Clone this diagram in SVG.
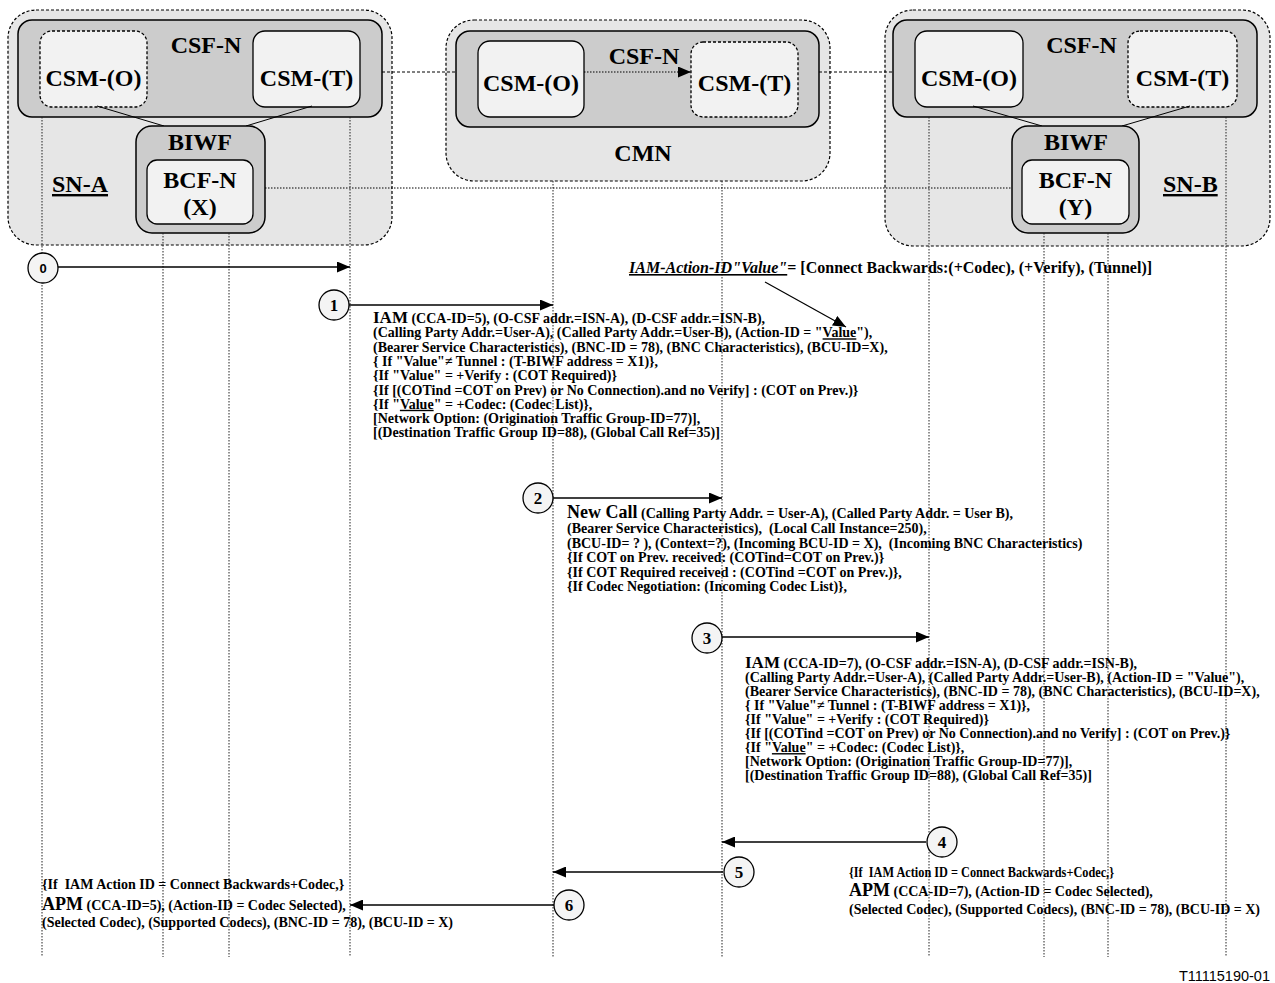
<svg xmlns="http://www.w3.org/2000/svg" width="1275" height="983" viewBox="0 0 1275 983">
<style>
text{font-family:"Liberation Serif","Times New Roman",serif;font-weight:bold;fill:#000;white-space:pre}
.lbl{font-size:24px;text-anchor:middle}
.b{font-size:14px}
.k{font-size:17px}
.kk{font-size:18px}
.n{font-size:17px;text-anchor:middle}
.outer{fill:#e6e6e6;stroke:#000;stroke-width:1.2;stroke-dasharray:3,2}
.csf{fill:#cccccc;stroke:#000;stroke-width:1.5}
.csm{fill:#f2f2f2;stroke:#000;stroke-width:1.3}
.dash{stroke-dasharray:3,2}
.life{stroke:#222;stroke-width:1;stroke-dasharray:1.5,1.5;fill:none}
.msg{stroke:#000;stroke-width:1.5;fill:none;marker-end:url(#ah)}
.circ{fill:#f4f4f4;stroke:#000;stroke-width:1.3}
.u{text-decoration:underline}
</style>
<defs>
<marker id="ah" markerUnits="userSpaceOnUse" markerWidth="13" markerHeight="11" refX="13" refY="5.5" orient="auto"><path d="M0,0 L13,5.5 L0,11 z" fill="#000"/></marker>
</defs>

<g id="SN-A">
<rect class="outer" x="8" y="10" width="384" height="235" rx="28"/>
<rect class="csf" x="18" y="20" width="364" height="97" rx="14"/>
<rect class="csm dash" x="40" y="31" width="107" height="76" rx="12"/>
<rect class="csm" x="253" y="31" width="107" height="76" rx="12"/>
<text class="lbl" x="206" y="53">CSF-N</text>
<text class="lbl" x="93.5" y="86">CSM-(O)</text>
<text class="lbl" x="306.5" y="86">CSM-(T)</text>
<line x1="97" y1="106" x2="164" y2="126" stroke="#000" stroke-width="1"/>
<line x1="312" y1="106" x2="246" y2="126" stroke="#000" stroke-width="1"/>
<rect class="csf" x="136" y="126" width="129" height="107" rx="16"/>
<rect class="csm" x="147" y="160" width="106" height="64" rx="10"/>
<text class="lbl" x="200" y="150">BIWF</text>
<text class="lbl" x="200" y="188">BCF-N</text>
<text class="lbl" x="200" y="215">(X)</text>
<text class="u" x="52" y="192" font-size="24">SN-A</text>
</g>

<g id="CMN">
<rect class="outer" x="446" y="20" width="384" height="161" rx="28"/>
<rect class="csf" x="456" y="31" width="363" height="96" rx="14"/>
<rect class="csm" x="478" y="41" width="106" height="76" rx="12"/>
<rect class="csm dash" x="691" y="42" width="107" height="75" rx="12"/>
<text class="lbl" x="644" y="64">CSF-N</text>
<text class="lbl" x="531" y="91">CSM-(O)</text>
<text class="lbl" x="744.5" y="91">CSM-(T)</text>
<text class="lbl" x="643" y="161">CMN</text>
</g>

<g id="SN-B">
<rect class="outer" x="885" y="10" width="385" height="236" rx="28"/>
<rect class="csf" x="893" y="20" width="364" height="97" rx="14"/>
<rect class="csm" x="915" y="31" width="108" height="76" rx="12"/>
<rect class="csm dash" x="1128" y="31" width="109" height="76" rx="12"/>
<text class="lbl" x="1081.5" y="53">CSF-N</text>
<text class="lbl" x="969" y="86">CSM-(O)</text>
<text class="lbl" x="1182.5" y="86">CSM-(T)</text>
<line x1="973" y1="106" x2="1042" y2="126" stroke="#000" stroke-width="1"/>
<line x1="1190" y1="106" x2="1122" y2="126" stroke="#000" stroke-width="1"/>
<rect class="csf" x="1012" y="126" width="127" height="107" rx="16"/>
<rect class="csm" x="1022" y="160" width="107" height="64" rx="10"/>
<text class="lbl" x="1076" y="150">BIWF</text>
<text class="lbl" x="1075.5" y="188">BCF-N</text>
<text class="lbl" x="1075.5" y="215">(Y)</text>
<text class="u" x="1163" y="192" font-size="24">SN-B</text>
</g>

<g id="lifelines">
<line class="life" x1="42" y1="117" x2="42" y2="957"/>
<line class="life" x1="163" y1="233" x2="163" y2="957"/>
<line class="life" x1="229" y1="233" x2="229" y2="957"/>
<line class="life" x1="350" y1="117" x2="350" y2="957"/>
<line class="life" x1="553" y1="181" x2="553" y2="957"/>
<line class="life" x1="722" y1="181" x2="722" y2="957"/>
<line class="life" x1="929" y1="117" x2="929" y2="957"/>
<line class="life" x1="1044" y1="233" x2="1044" y2="957"/>
<line class="life" x1="1108" y1="233" x2="1108" y2="957"/>
<line class="life" x1="1226" y1="117" x2="1226" y2="957"/>
</g>

<g id="connectors">
<line x1="382" y1="72" x2="456" y2="72" stroke="#000" stroke-width="1" stroke-dasharray="3,2"/>
<line x1="819" y1="72" x2="893" y2="72" stroke="#000" stroke-width="1" stroke-dasharray="3,2"/>
<line x1="584" y1="72" x2="691" y2="72" stroke="#000" stroke-width="1" stroke-dasharray="1.5,1.5" marker-end="url(#ah)"/>
<line x1="265" y1="188" x2="1012" y2="188" stroke="#000" stroke-width="1" stroke-dasharray="1.5,1.5"/>
<line x1="58" y1="267" x2="350" y2="267" class="msg"/>
<line x1="349" y1="305" x2="553" y2="305" class="msg"/>
<line x1="553" y1="498" x2="722" y2="498" class="msg"/>
<line x1="722" y1="637" x2="929" y2="637" class="msg"/>
<line x1="926" y1="842" x2="722" y2="842" class="msg"/>
<line x1="723" y1="872" x2="553" y2="872" class="msg"/>
<line x1="554" y1="905" x2="350" y2="905" class="msg"/>
<line x1="765" y1="282" x2="846" y2="327" stroke="#000" stroke-width="1.2" marker-end="url(#ah)"/>
</g>

<g id="step-0"><circle class="circ" cx="43" cy="268" r="15"/><text x="43" y="273" font-size="13" text-anchor="middle" style="font-family:'Liberation Sans',Arial,sans-serif">0</text></g>
<g id="step-1"><circle class="circ" cx="334" cy="305" r="15"/><text class="n" x="334" y="311">1</text></g>
<g id="step-2"><circle class="circ" cx="538" cy="498" r="15"/><text class="n" x="538" y="504">2</text></g>
<g id="step-3"><circle class="circ" cx="707" cy="638" r="15"/><text class="n" x="707" y="644">3</text></g>
<g id="step-4"><circle class="circ" cx="942" cy="842" r="15"/><text class="n" x="942" y="848">4</text></g>
<g id="step-5"><circle class="circ" cx="739" cy="872" r="15"/><text class="n" x="739" y="878">5</text></g>
<g id="step-6"><circle class="circ" cx="569" cy="905" r="15"/><text class="n" x="569" y="911">6</text></g>

<g id="action-id-note">
<text x="629" y="273" font-size="16"><tspan font-style="italic" class="u">IAM-Action-ID"Value"</tspan>= [Connect Backwards:(+Codec), (+Verify), (Tunnel)]</text>
</g>

<g id="msg-1-text">
<text class="b" x="373" y="323"><tspan class="k">IAM</tspan> (CCA-ID=5), (O-CSF addr.=ISN-A), (D-CSF addr.=ISN-B),</text>
<text class="b" x="373" y="337.3">(Calling Party Addr.=User-A), (Called Party Addr.=User-B), (Action-ID = "<tspan class="u">Value</tspan>"),</text>
<text class="b" x="373" y="351.6">(Bearer Service Characteristics), (BNC-ID = 78), (BNC Characteristics), (BCU-ID=X),</text>
<text class="b" x="373" y="365.9">{ If "Value"≠ Tunnel : (T-BIWF address = X1)},</text>
<text class="b" x="373" y="380.2">{If "Value" = +Verify : (COT Required)}</text>
<text class="b" x="373" y="394.5">{If [(COTind =COT on Prev) or No Connection).and no Verify] : (COT on Prev.)}</text>
<text class="b" x="373" y="408.8">{If "<tspan class="u">Value</tspan>" = +Codec: (Codec List)},</text>
<text class="b" x="373" y="423.1">[Network Option: (Origination Traffic Group-ID=77)],</text>
<text class="b" x="373" y="437.4">[(Destination Traffic Group ID=88), (Global Call Ref=35)]</text>
</g>

<g id="msg-2-text">
<text class="b" x="567" y="518"><tspan class="kk">New Call</tspan> (Calling Party Addr. = User-A), (Called Party Addr. = User B),</text>
<text class="b" x="567" y="533">(Bearer Service Characteristics),  (Local Call Instance=250),</text>
<text class="b" x="567" y="547.5">(BCU-ID= ? ), (Context=?), (Incoming BCU-ID = X),  (Incoming BNC Characteristics)</text>
<text class="b" x="567" y="562">{If COT on Prev. received: (COTind=COT on Prev.)}</text>
<text class="b" x="567" y="576.5">{If COT Required received : (COTind =COT on Prev.)},</text>
<text class="b" x="567" y="591">{If Codec Negotiation: (Incoming Codec List)},</text>
</g>

<g id="msg-3-text">
<text class="b" x="745" y="667.5"><tspan class="k">IAM</tspan> (CCA-ID=7), (O-CSF addr.=ISN-A), (D-CSF addr.=ISN-B),</text>
<text class="b" x="745" y="681.6">(Calling Party Addr.=User-A), (Called Party Addr.=User-B), (Action-ID = "Value"),</text>
<text class="b" x="745" y="695.7">(Bearer Service Characteristics), (BNC-ID = 78), (BNC Characteristics), (BCU-ID=X),</text>
<text class="b" x="745" y="709.8">{ If "Value"≠ Tunnel : (T-BIWF address = X1)},</text>
<text class="b" x="745" y="723.9">{If "Value" = +Verify : (COT Required)}</text>
<text class="b" x="745" y="738">{If [(COTind =COT on Prev) or No Connection).and no Verify] : (COT on Prev.)}</text>
<text class="b" x="745" y="752.1">{If "<tspan class="u">Value</tspan>" = +Codec: (Codec List)},</text>
<text class="b" x="745" y="766.2">[Network Option: (Origination Traffic Group-ID=77)],</text>
<text class="b" x="745" y="780.3">[(Destination Traffic Group ID=88), (Global Call Ref=35)]</text>
</g>

<g id="msg-4-text">
<text class="b" x="849" y="877" textLength="265" lengthAdjust="spacingAndGlyphs">{If  IAM Action ID = Connect Backwards+Codec,}</text>
<text class="b" x="849" y="896"><tspan class="kk">APM</tspan> (CCA-ID=7), (Action-ID = Codec Selected),</text>
<text class="b" x="849" y="914">(Selected Codec), (Supported Codecs), (BNC-ID = 78), (BCU-ID = X)</text>
</g>

<g id="msg-6-text">
<text class="b" x="42" y="889">{If  IAM Action ID = Connect Backwards+Codec,}</text>
<text class="b" x="42" y="910"><tspan class="kk">APM</tspan> (CCA-ID=5), (Action-ID = Codec Selected),</text>
<text class="b" x="42" y="927">(Selected Codec), (Supported Codecs), (BNC-ID = 78), (BCU-ID = X)</text>
</g>

<text x="1270" y="981" font-size="14.5" text-anchor="end" style="font-family:'Liberation Sans',Arial,sans-serif;font-weight:normal">T11115190-01</text>
</svg>
